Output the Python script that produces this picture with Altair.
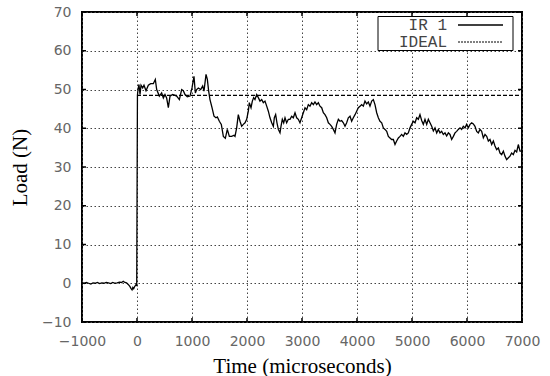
import altair as alt
import pandas as pd

# Measured load trace (IR 1), time in microseconds, load in newtons
time_us = [
    -1000, -960, -920, -880, -840, -800, -760, -720, -680, -640, -600, -560,
    -520, -480, -440, -400, -360, -320, -280, -250, -220, -190, -160, -130,
    -110, -90, -75, -60, -45, -30, -15, -5,
    8, 18, 36, 55, 73, 103, 127, 164, 206, 248, 297, 333, 358, 406, 448, 479,
    509, 539, 570, 600, 648, 691, 721, 770, 812, 842, 873, 915, 964, 1000,
    1036, 1061, 1085, 1115, 1158, 1194, 1218, 1255, 1279, 1303, 1327, 1364,
    1400, 1436, 1461, 1497, 1533, 1570, 1606, 1642, 1679, 1721, 1764, 1782,
    1812, 1842, 1873, 1903, 1933, 1964, 1994, 2024, 2042, 2073, 2097, 2121,
    2145, 2176, 2206, 2236, 2267, 2297, 2327, 2358, 2388, 2418, 2449, 2479,
    2497, 2521, 2545, 2570, 2600, 2618, 2642, 2667, 2691, 2721, 2752, 2782,
    2812, 2842, 2873, 2903, 2933, 2963, 2994, 3024, 3055, 3085, 3115, 3145,
    3176, 3206, 3236, 3267, 3297, 3327, 3358, 3388, 3418, 3449, 3479, 3509,
    3539, 3570, 3600, 3630, 3661, 3691, 3721, 3752, 3782, 3812, 3842, 3873,
    3903, 3933, 3964, 3994, 4024, 4055, 4085, 4115, 4145, 4176, 4206, 4236,
    4267, 4297, 4327, 4358, 4388, 4418, 4449, 4479, 4509, 4540, 4570, 4600,
    4630, 4661, 4691, 4721, 4752, 4782, 4812, 4842, 4873, 4903, 4933, 4964,
    4994, 5024, 5055, 5085, 5115, 5145, 5176, 5206, 5236, 5267, 5297, 5327,
    5358, 5388, 5418, 5449, 5479, 5509, 5539, 5570, 5600, 5630, 5661, 5691,
    5721, 5752, 5782, 5812, 5842, 5873, 5903, 5933, 5964, 5994, 6024, 6055,
    6085, 6115, 6145, 6176, 6206, 6236, 6267, 6297, 6327, 6358, 6388, 6418,
    6449, 6479, 6509, 6539, 6570, 6600, 6630, 6661, 6691, 6721, 6752, 6782,
    6812, 6842, 6873, 6903, 6933, 6964, 7000,
]
load_n = [
    0.1, -0.1, 0.2, 0.0, -0.2, 0.1, 0.0, 0.2, -0.1, 0.1, 0.0, 0.2,
    0.1, -0.1, 0.2, 0.0, 0.1, 0.3, 0.2, 0.5, 0.2, 0.1, -0.3, -0.8,
    -1.3, -1.7, -1.1, -1.4, -0.9, -0.6, -0.3, -0.5,
    48.5, 50.0, 51.3, 48.7, 51.1, 50.4, 51.1, 49.7, 51.1, 51.5, 51.5, 52.6,
    50.0, 48.3, 49.1, 47.8, 48.7, 47.8, 45.3, 48.3, 48.7, 48.5, 48.3, 47.4,
    50.0, 49.7, 48.7, 48.1, 48.3, 50.4, 53.4, 49.1, 50.0, 50.4, 50.0, 50.9,
    49.6, 53.9, 52.6, 49.6, 47.4, 45.3, 43.1, 42.7, 42.9, 41.8, 41.0, 37.9,
    37.4, 39.7, 37.9, 37.9, 38.2, 37.9, 40.1, 43.5, 41.8, 40.5, 41.0, 41.4,
    42.3, 44.4, 46.6, 45.3, 47.0, 47.9, 47.4, 48.7, 47.9, 47.0, 47.4, 46.6,
    47.0, 45.7, 44.4, 42.7, 41.4, 40.5, 42.7, 43.5, 41.4, 39.7, 38.8, 40.5,
    42.3, 41.4, 42.7, 41.4, 42.3, 42.3, 43.1, 42.7, 44.0, 42.7, 42.3, 41.4,
    42.7, 44.0, 45.3, 44.8, 46.1, 45.7, 46.6, 46.1, 46.8, 46.1, 46.6, 45.7,
    45.3, 44.0, 43.5, 42.7, 41.4, 41.0, 40.5, 39.7, 38.8, 41.0, 42.3, 41.8,
    42.0, 41.4, 40.5, 41.4, 42.7, 43.1, 41.8, 42.7, 43.5, 44.4, 45.3, 45.7,
    46.1, 45.7, 47.0, 46.3, 46.8, 45.7, 47.0, 47.4, 46.1, 44.0, 42.7, 41.8,
    41.4, 40.1, 39.7, 39.2, 37.9, 37.5, 37.1, 37.1, 35.8, 36.7, 37.5, 37.9,
    38.4, 37.9, 38.8, 38.4, 38.8, 40.1, 41.0, 41.8, 41.4, 42.7, 42.3, 43.5,
    42.0, 41.0, 42.3, 41.0, 42.3, 41.4, 40.5, 39.3, 40.1, 38.8, 39.7, 38.8,
    39.2, 38.4, 38.8, 38.0, 38.8, 38.4, 37.1, 37.9, 38.8, 39.2, 39.7, 40.1,
    39.7, 40.5, 40.1, 41.0, 40.1, 41.0, 41.4, 41.1, 40.5, 39.2, 38.8, 39.7,
    39.2, 37.5, 38.4, 37.9, 36.7, 37.1, 35.8, 36.7, 35.4, 34.5, 34.9, 33.6,
    33.2, 34.1, 32.8, 31.9, 32.4, 32.8, 33.6, 33.2, 34.3, 33.9, 35.8, 34.1,
    34.1,
]

# Ideal step load after impact
ideal_time = [0, 7000]
ideal_load = [48.5, 48.5]

x_ticks = [-1000, 0, 1000, 2000, 3000, 4000, 5000, 6000, 7000]
y_ticks = [-10, 0, 10, 20, 30, 40, 50, 60, 70]
series_names = ["IR 1", "IDEAL"]

W, H = 440, 310

xscale = alt.Scale(domain=[-1000, 7000], nice=False, zero=False)
yscale = alt.Scale(domain=[-10, 70], nice=False, zero=False)

axis_common = dict(
    format="d", grid=True, gridColor="#444", gridDash=[1.5, 2.5], gridWidth=1,
    ticks=False, domain=False, labelFlush=False, labelOverlap=False,
    labelFont="DejaVu Sans", labelFontSize=14, labelColor="#666",
    titleFont="Liberation Serif", titleFontSize=21, titleFontWeight="normal",
    titleColor="black", titleBaseline="alphabetic",
)
x_axis = alt.Axis(title="Time (microseconds)", values=x_ticks, labelPadding=12,
                  titleX=W / 2, titleY=50, **axis_common)
y_axis = alt.Axis(title="Load (N)", values=y_ticks, labelPadding=11,
                  titleX=-56, titleY=H / 2, **axis_common)

X = alt.X("time:Q", scale=xscale, axis=x_axis)
Y = alt.Y("load:Q", scale=yscale, axis=y_axis)

trace_df = pd.DataFrame({"time": time_us, "load": load_n})
ideal_df = pd.DataFrame({"time": ideal_time, "load": ideal_load})
xt_df = pd.DataFrame({"time": x_ticks})
yt_df = pd.DataFrame({"load": y_ticks})
one = pd.DataFrame({"k": [0]})

trace = alt.Chart(trace_df).mark_line(color="black", strokeWidth=1.3).encode(x=X, y=Y)
ideal = alt.Chart(ideal_df).mark_line(color="black", strokeWidth=1.2, strokeDash=[4, 2]).encode(x=X, y=Y)

# inward tick marks on all four sides
tick_style = dict(color="black", strokeWidth=1.5)
xt_bottom = alt.Chart(xt_df).mark_rule(**tick_style).encode(x=X, y=alt.value(H), y2=alt.value(H - 4))
xt_top = alt.Chart(xt_df).mark_rule(**tick_style).encode(x=X, y=alt.value(0), y2=alt.value(4))
yt_left = alt.Chart(yt_df).mark_rule(**tick_style).encode(y=Y, x=alt.value(0), x2=alt.value(4))
yt_right = alt.Chart(yt_df).mark_rule(**tick_style).encode(y=Y, x=alt.value(W), x2=alt.value(W - 4))

# key box in the upper right corner
key_box = alt.Chart(one).mark_rect(fill="white", stroke="black", strokeWidth=1).encode(
    x=alt.value(296), x2=alt.value(431), y=alt.value(4.5), y2=alt.value(38.5)
)
key_text_style = dict(align="right", baseline="alphabetic", font="Liberation Mono",
                      fontSize=16, color="#444")
key_t1 = alt.Chart(one).mark_text(**key_text_style).encode(
    x=alt.value(365), y=alt.value(17.5), text=alt.value(series_names[0]))
key_t2 = alt.Chart(one).mark_text(**key_text_style).encode(
    x=alt.value(365), y=alt.value(34.5), text=alt.value(series_names[1]))
key_l1 = alt.Chart(one).mark_rule(color="black", strokeWidth=1.3).encode(
    x=alt.value(376), x2=alt.value(421), y=alt.value(13))
key_l2 = alt.Chart(one).mark_rule(color="black", strokeWidth=1, strokeDash=[2, 1]).encode(
    x=alt.value(376), x2=alt.value(421), y=alt.value(30))

chart = alt.layer(
    trace, ideal, xt_bottom, xt_top, yt_left, yt_right,
    key_box, key_t1, key_t2, key_l1, key_l2,
).properties(
    width=W, height=H,
    autosize=alt.AutoSizeParams(type="none"),
    padding={"left": 82, "top": 12, "right": 28, "bottom": 54},
    background="white",
).configure_view(stroke="black", strokeWidth=2)

chart.save("out.html", embed_options={"renderer": "svg", "actions": False})
